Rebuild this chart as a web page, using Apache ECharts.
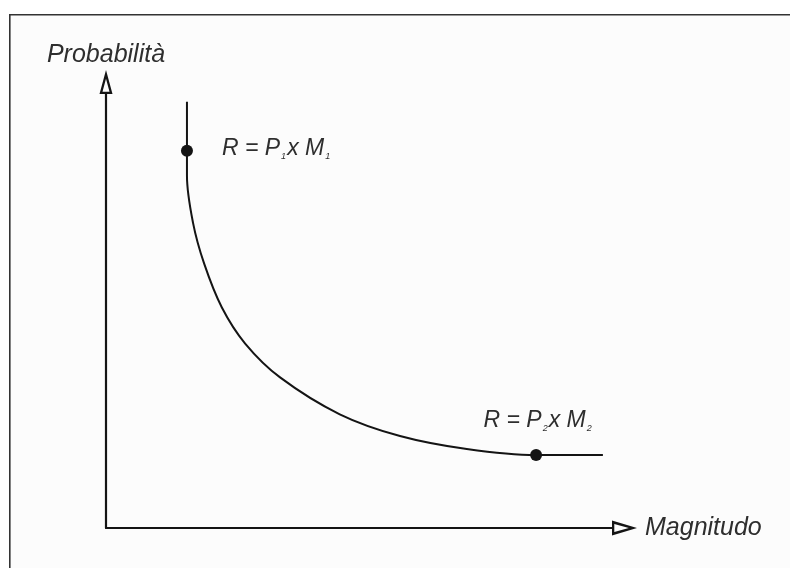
<!DOCTYPE html>
<html>
<head>
<meta charset="utf-8">
<script src="https://cdn.jsdelivr.net/npm/echarts@6/dist/echarts.min.js"></script>
<style>
  html, body { margin: 0; padding: 0; background: #ffffff; }
  #chart { width: 790px; height: 568px; }
</style>
</head>
<body>
<div id="chart"></div>
<script>
// Curve (Magnitudo, Probabilità on a 0–100 scale)
const curveMagnitudo   = [16.0, 16.0, 16.0, 17.2, 19.4, 22.9, 27.5, 34.4, 46.2, 58.1, 71.3, 85.0, 98.2];
const curveProbabilita = [98.2, 86.9, 81.2, 70.3, 60.9, 50.8, 42.5, 34.7, 26.2, 21.2, 18.2, 16.8, 16.8];

// Marked points
const pointMagnitudo   = [16.0, 85.0];
const pointProbabilita = [86.9, 16.8];
const pointSubscripts  = ['1', '2'];

// Axis titles
const xAxisName = 'Magnitudo';
const yAxisName = 'Probabilità';

const FONT = '"Liberation Sans", Arial, Helvetica, sans-serif';
const INK = '#141414';
const TEXT = '#2e2e2e';

// Open (hollow) arrow heads, drawn as outline shapes
const arrowY = 'path://M6.5,0L13,24L0,24Z M6.5,8.8L3.0,21.7L10.0,21.7Z';
const arrowX = 'path://M7.5,0L15,25L0,25Z M7.5,8.2L3.6,22.7L11.4,22.7Z';

const curveData = curveMagnitudo.map((m, i) => [m, curveProbabilita[i]]);

const richStyles = {
  m: { fontFamily: FONT, fontStyle: 'italic', fontSize: 23, color: TEXT, lineHeight: 24 },
  s: { fontFamily: FONT, fontStyle: 'italic', fontSize: 9, color: TEXT, verticalAlign: 'bottom', lineHeight: 24, padding: [0, 1, 0, 1] }
};

const pointData = pointMagnitudo.map((m, i) => {
  const sub = pointSubscripts[i];
  const text = '{m|R = P}{s|' + sub + '}{m|x M}{s|' + sub + '}';
  const label = i === 0
    ? { show: true, position: 'right', distance: 29, offset: [0, -2], formatter: text, rich: richStyles }
    : { show: true, position: 'top', distance: 16, offset: [2, 0], formatter: text, rich: richStyles };
  return { value: [m, pointProbabilita[i]], label: label };
});

const chart = echarts.init(document.getElementById('chart'), null, { renderer: 'canvas' });

chart.setOption({
  backgroundColor: '#ffffff',
  animation: false,
  graphic: [{
    type: 'rect',
    left: 9,
    top: 14,
    z: -10,
    shape: { width: 800, height: 600 },
    style: { fill: '#fcfcfc', stroke: '#333333', lineWidth: 1.6 }
  }],
  grid: { left: 106, right: 178, top: 94, bottom: 40 },
  xAxis: {
    type: 'value',
    min: 0,
    max: 100,
    name: xAxisName,
    nameLocation: 'end',
    nameGap: 33,
    nameTextStyle: { fontFamily: FONT, fontStyle: 'italic', fontSize: 25, color: TEXT, verticalAlign: 'middle' },
    axisLine: {
      show: true,
      lineStyle: { color: INK, width: 2.2 },
      symbol: ['none', arrowX],
      symbolSize: [15, 25],
      symbolOffset: [0, 12.5]
    },
    axisTick: { show: false },
    axisLabel: { show: false },
    splitLine: { show: false }
  },
  yAxis: {
    type: 'value',
    min: 0,
    max: 100,
    name: yAxisName,
    nameLocation: 'end',
    nameGap: 26,
    nameTextStyle: { fontFamily: FONT, fontStyle: 'italic', fontSize: 25, color: TEXT, align: 'center' },
    axisLine: {
      show: true,
      onZero: false,
      lineStyle: { color: INK, width: 2.2 },
      symbol: ['none', arrowY],
      symbolSize: [13, 24],
      symbolOffset: [0, 12]
    },
    axisTick: { show: false },
    axisLabel: { show: false },
    splitLine: { show: false }
  },
  series: [
    {
      type: 'line',
      data: curveData,
      smooth: 0.35,
      showSymbol: false,
      lineStyle: { color: INK, width: 2 },
      z: 2
    },
    {
      type: 'scatter',
      data: pointData,
      symbol: 'circle',
      symbolSize: 12,
      itemStyle: { color: INK, opacity: 1 },
      z: 3
    }
  ]
});
</script>
</body>
</html>
